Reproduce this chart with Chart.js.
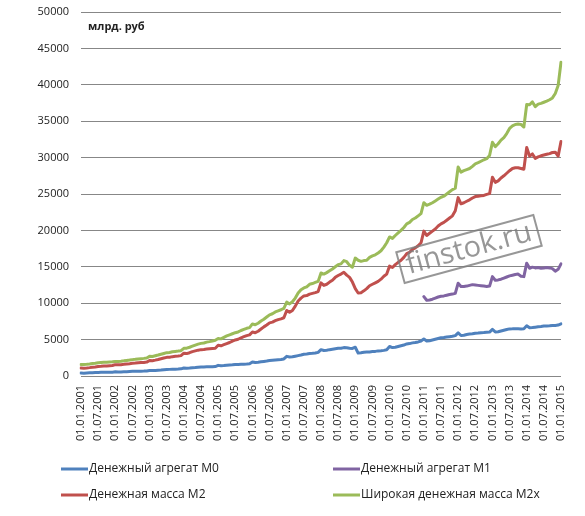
<!DOCTYPE html>
<html>
<head>
<meta charset="utf-8">
<script src="https://cdn.jsdelivr.net/npm/chart.js@4.4.1/dist/chart.umd.min.js"></script>
<style>
    html, body { margin: 0; padding: 0; background: #fff; }
    #wrap { width: 585px; height: 516px; }
</style>
</head>
<body>
<div id="wrap"><canvas id="moneyChart" width="585" height="516"></canvas></div>
<script>
// =========================
// DATA (млрд. руб, на 1-е число месяца)
// =========================
const startYear = 2001;
const endYear = 2015;

const seriesNames = [
    "Денежный агрегат М0",
    "Денежный агрегат М1",
    "Денежная масса М2",
    "Широкая денежная масса М2х"
];

const m0Values = [
    400, 390, 410, 430, 450, 470, 490, 500, 510, 515, 520, 530,
    570, 550, 560, 580, 600, 620, 640, 650, 660, 665, 670, 690,
    760, 740, 770, 800, 830, 870, 900, 910, 930, 940, 950, 980,
    1100, 1060, 1090, 1130, 1160, 1200, 1240, 1250, 1260, 1270, 1280, 1300,
    1460, 1400, 1430, 1470, 1500, 1530, 1570, 1590, 1610, 1620, 1640, 1680,
    1930, 1850, 1890, 1950, 2000, 2050, 2120, 2160, 2200, 2240, 2270, 2340,
    2700, 2600, 2640, 2720, 2800, 2880, 2980, 3020, 3080, 3110, 3150, 3250,
    3620, 3500, 3550, 3620, 3680, 3740, 3800, 3820, 3900, 3880, 3820, 3780,
    3950, 3150, 3200, 3260, 3280, 3300, 3350, 3380, 3450, 3480, 3520, 3600,
    4050, 3900, 3950, 4050, 4150, 4250, 4400, 4450, 4550, 4600, 4680, 4800,
    5080, 4800, 4850, 4950, 5050, 5150, 5250, 5280, 5350, 5400, 5450, 5550,
    5930, 5560, 5600, 5700, 5760, 5800, 5880, 5900, 5950, 5970, 6000, 6030,
    6400, 6050, 6080, 6180, 6280, 6380, 6470, 6480, 6500, 6480, 6460, 6500,
    6900, 6620, 6650, 6700, 6750, 6800, 6860, 6880, 6900, 6930, 6950, 7000,
    7170
];

// M1 is published only from 01.01.2011
const m1FirstIndex = 120;
const m1Values = [
    10900, 10400, 10450, 10550, 10700, 10850, 10950, 11000, 11100, 11200, 11250, 11350,
    12750, 12300, 12300, 12350, 12450, 12550, 12500, 12450, 12400, 12350, 12300, 12350,
    13650, 13150, 13200, 13300, 13450, 13600, 13750, 13850, 13950, 14000, 13700, 13650,
    15500, 14800, 14950, 14850, 14900, 14800, 14850, 14900, 14850, 14750, 14400, 14650,
    15400
];

const m2Values = [
    1100, 1080, 1110, 1150, 1200, 1240, 1300, 1330, 1370, 1390, 1420, 1440,
    1560, 1530, 1560, 1600, 1650, 1690, 1740, 1770, 1810, 1840, 1870, 1910,
    2130, 2100, 2180, 2270, 2370, 2470, 2560, 2580, 2660, 2700, 2740, 2800,
    3130, 3080, 3200, 3350, 3450, 3550, 3620, 3650, 3700, 3740, 3780, 3820,
    4220, 4150, 4300, 4450, 4600, 4800, 4950, 5050, 5250, 5400, 5550, 5650,
    6050, 5950, 6150, 6450, 6750, 7000, 7300, 7400, 7600, 7750, 7850, 8000,
    9000, 8750, 9000, 9600, 10300, 10700, 11000, 11050, 11250, 11350, 11450, 11600,
    12800, 12450, 12600, 12900, 13150, 13550, 13800, 14000, 14250, 13850, 13550, 12900,
    12000, 11400, 11450, 11700, 12000, 12400, 12600, 12800, 13000, 13300, 13700, 14000,
    15100, 14900, 15300, 15600, 15900, 16300, 16800, 17000, 17400, 17600, 17900, 18300,
    19900, 19300, 19600, 19900, 20200, 20600, 20900, 21100, 21400, 21700, 22000, 22700,
    24500, 23650, 23800, 24000, 24200, 24450, 24650, 24700, 24750, 24800, 24950, 25050,
    27300, 26600, 26800, 27200, 27500, 27850, 28200, 28500, 28600, 28600, 28500, 28400,
    31400, 30200, 30500, 29900, 30100, 30250, 30350, 30450, 30550, 30700, 30750, 30200,
    32200
];

const m2xValues = [
    1580, 1570, 1610, 1660, 1720, 1760, 1820, 1850, 1880, 1900, 1930, 1950,
    2000, 1990, 2030, 2080, 2140, 2190, 2250, 2290, 2340, 2380, 2420, 2480,
    2700, 2680, 2780, 2880, 2990, 3100, 3210, 3230, 3340, 3380, 3420, 3480,
    3800, 3820, 3950, 4100, 4250, 4380, 4480, 4530, 4650, 4720, 4800, 4900,
    5150, 5100, 5300, 5500, 5650, 5800, 5950, 6050, 6250, 6400, 6550, 6650,
    7150, 7050, 7250, 7550, 7800, 8100, 8400, 8550, 8800, 8950, 9100, 9300,
    10150, 9900, 10200, 10700, 11400, 11850, 12100, 12250, 12600, 12700, 12850, 13000,
    14150, 14000, 14200, 14450, 14700, 15000, 15300, 15400, 15850, 15700, 15200, 14950,
    16200, 15900, 15750, 15850, 15900, 16300, 16500, 16650, 16900, 17200, 17700, 18300,
    19100, 18900, 19300, 19650, 20000, 20400, 20900, 21100, 21500, 21700, 22000, 22300,
    23800, 23450, 23600, 23800, 24050, 24300, 24550, 24700, 25000, 25300, 25600, 25800,
    28700, 28000, 28200, 28350, 28500, 28800, 29150, 29300, 29500, 29700, 29850, 30300,
    32100, 31500, 31900, 32400, 32750, 33300, 34000, 34350, 34550, 34600, 34550, 34200,
    37300, 37250, 37650, 37000, 37350, 37450, 37600, 37750, 37950, 38200, 38800, 39900,
    43100
];

const seriesColors = ["#4F81BD", "#8064A2", "#C0504D", "#9BBB59"];

// monthly date labels 01.01.2001 ... 01.01.2015
const monthLabels = [];
for (let y = startYear; y <= endYear; y++) {
    for (let m = 1; m <= 12; m++) {
        if (y === endYear && m > 1) break;
        monthLabels.push("01." + String(m).padStart(2, "0") + "." + y);
    }
}

const m1Full = Array(m1FirstIndex).fill(null).concat(m1Values);

// =========================
// EXTRA DRAWING (unit, watermark, legend)
// =========================
const extrasPlugin = {
    id: "extras",
    afterDatasetsDraw(chart) {
        const ctx = chart.ctx;
        ctx.save();
        ctx.translate(469, 249);
        ctx.rotate(-15.2 * Math.PI / 180);
        ctx.strokeStyle = "rgba(125,125,125,0.8)";
        ctx.lineWidth = 2;
        ctx.strokeRect(-71, -16, 142, 32);
        ctx.fillStyle = "rgba(125,125,125,0.8)";
        ctx.font = "29px 'Open Sans', sans-serif";
        ctx.textAlign = "center";
        ctx.textBaseline = "middle";
        ctx.fillText("finstok.ru", 0, 0);
        ctx.restore();
    },
    afterDraw(chart) {
        const ctx = chart.ctx;
        ctx.save();
        ctx.fillStyle = "#222";
        ctx.font = "bold 11px 'Open Sans', sans-serif";
        ctx.textAlign = "left";
        ctx.textBaseline = "middle";
        ctx.fillText("млрд. руб", 88, 27);

        // legend in two columns
        const colX = [61, 333];
        const rowY = [469, 495];
        ctx.font = "12px 'Open Sans', sans-serif";
        chart.data.datasets.forEach((ds, i) => {
            const x = colX[i % 2];
            const y = rowY[Math.floor(i / 2)];
            ctx.strokeStyle = ds.borderColor;
            ctx.lineWidth = 3;
            ctx.beginPath();
            ctx.moveTo(x, y);
            ctx.lineTo(x + 27, y);
            ctx.stroke();
            ctx.fillStyle = "#222";
            ctx.fillText(ds.label, x + 28, y);
        });
        ctx.restore();
    }
};

// =========================
// CHART
// =========================
Chart.defaults.font.family = "'Open Sans', sans-serif";
Chart.defaults.font.size = 11;
Chart.defaults.color = "#222";

const allSeries = [m0Values, m1Full, m2Values, m2xValues];

new Chart(document.getElementById("moneyChart"), {
    type: "line",
    data: {
        labels: monthLabels,
        datasets: allSeries.map((vals, i) => ({
            label: seriesNames[i],
            data: vals,
            borderColor: seriesColors[i],
            backgroundColor: seriesColors[i],
            borderWidth: 3,
            pointRadius: 0,
            tension: 0,
            fill: false,
            spanGaps: false,
            borderJoinStyle: "round",
            borderCapStyle: "round"
        }))
    },
    options: {
        responsive: false,
        animation: false,
        layout: { padding: { top: 12, right: 24, bottom: 60, left: 0 } },
        plugins: {
            legend: { display: false },
            tooltip: { enabled: false }
        },
        scales: {
            x: {
                grid: { display: false, drawTicks: false },
                border: { display: false },
                ticks: {
                    autoSkip: false,
                    minRotation: 90,
                    maxRotation: 90,
                    padding: 9,
                    callback(val, idx) {
                        return idx % 6 === 0 ? this.getLabelForValue(val) : null;
                    }
                },
                afterFit(scale) { scale.height = 80; }
            },
            y: {
                min: 0,
                max: 50000,
                ticks: {
                    stepSize: 5000,
                    padding: 12,
                    callback: v => String(v)
                },
                grid: { color: "#878787", lineWidth: 1, drawTicks: false },
                border: { display: false },
                afterFit(scale) {
                    scale.width = 81;
                    // keep the plot top at the layout padding
                    scale.paddingTop = 0;
                    scale.paddingBottom = 0;
                }
            }
        }
    },
    plugins: [extrasPlugin]
});
</script>
</body>
</html>
